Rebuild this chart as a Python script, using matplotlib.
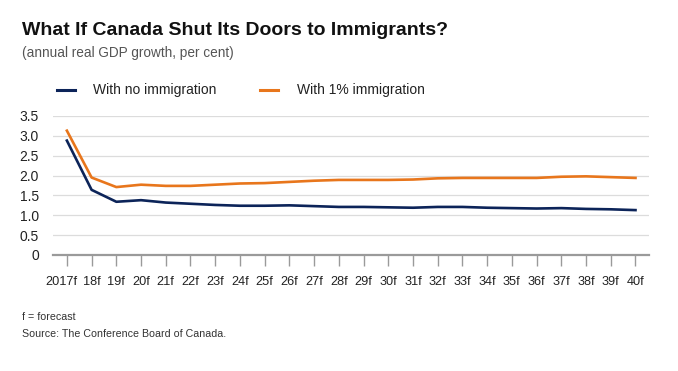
import matplotlib.pyplot as plt
from matplotlib.transforms import ScaledTranslation

# 予測年
years = ["2017f", "18f", "19f", "20f", "21f", "22f", "23f", "24f", "25f", "26f", "27f", "28f",
         "29f", "30f", "31f", "32f", "33f", "34f", "35f", "36f", "37f", "38f", "39f", "40f"]

no_immigration = [2.88, 1.64, 1.34, 1.38, 1.32, 1.29, 1.26, 1.24, 1.24, 1.25, 1.23, 1.21,
                  1.21, 1.20, 1.19, 1.21, 1.21, 1.19, 1.18, 1.17, 1.18, 1.16, 1.15, 1.13]
one_pct_immigration = [3.13, 1.95, 1.71, 1.77, 1.74, 1.74, 1.77, 1.80, 1.81, 1.84, 1.87, 1.89,
                       1.89, 1.89, 1.90, 1.93, 1.94, 1.94, 1.94, 1.94, 1.97, 1.98, 1.96, 1.94]

y_ticks = [0, 0.5, 1.0, 1.5, 2.0, 2.5, 3.0, 3.5]
y_labels = ["0", "0.5", "1.0", "1.5", "2.0", "2.5", "3.0", "3.5"]

navy = "#0c2459"
orange = "#e8761c"

plt.rcParams["font.family"] = ["Liberation Sans", "DejaVu Sans"]

fig = plt.figure(figsize=(6.78, 3.71), dpi=100)
ax = fig.add_axes([0.078, 0.3127, 0.879, 0.3747])

x = list(range(len(years)))
ax.plot(x, no_immigration, color=navy, lw=1.9, solid_joinstyle="round")
ax.plot(x, one_pct_immigration, color=orange, lw=1.9, solid_joinstyle="round")

ax.set_xlim(-0.566, 23.54)
ax.set_ylim(0, 3.5)
ax.set_yticks(y_ticks)
ax.set_yticklabels(y_labels)
ax.set_xticks(x)
ax.set_xticklabels(years)

ax.grid(axis="y", color="#dcdcdc", lw=0.9)
ax.set_axisbelow(True)
for s in ["top", "right", "left"]:
    ax.spines[s].set_visible(False)
ax.spines["bottom"].set_color("#9a9a9a")
ax.spines["bottom"].set_linewidth(1.6)
ax.tick_params(axis="y", length=0, pad=10, labelsize=10, labelcolor="#222222")
ax.tick_params(axis="x", length=8, width=1, color="#9a9a9a", pad=7, labelsize=9.2,
               labelcolor="#222222")

# 2017fは少し左にずらす
first = ax.xaxis.get_major_ticks()[0].label1
first.set_transform(first.get_transform() + ScaledTranslation(-4 / 72, 0, fig.dpi_scale_trans))

# タイトルと凡例
fig.text(0.032, 0.918, "What If Canada Shut Its Doors to Immigrants?", fontsize=14,
         fontweight="bold", color="#111111", va="center")
fig.text(0.032, 0.857, "(annual real GDP growth, per cent)", fontsize=9.8,
         color="#555555", va="center")

fig.lines.append(plt.Line2D([0.084, 0.111], [0.757, 0.757], color=navy, lw=2.2,
                            transform=fig.transFigure))
fig.text(0.137, 0.757, "With no immigration", fontsize=10, color="#222222", va="center")
fig.lines.append(plt.Line2D([0.384, 0.410], [0.757, 0.757], color=orange, lw=2.2,
                            transform=fig.transFigure))
fig.text(0.438, 0.757, "With 1% immigration", fontsize=10, color="#222222", va="center")

fig.text(0.032, 0.145, "f = forecast", fontsize=7.7, color="#333333", va="center")
fig.text(0.032, 0.1, "Source: The Conference Board of Canada.", fontsize=7.7,
         color="#333333", va="center")

plt.savefig("out.png", dpi=100, facecolor="white")
